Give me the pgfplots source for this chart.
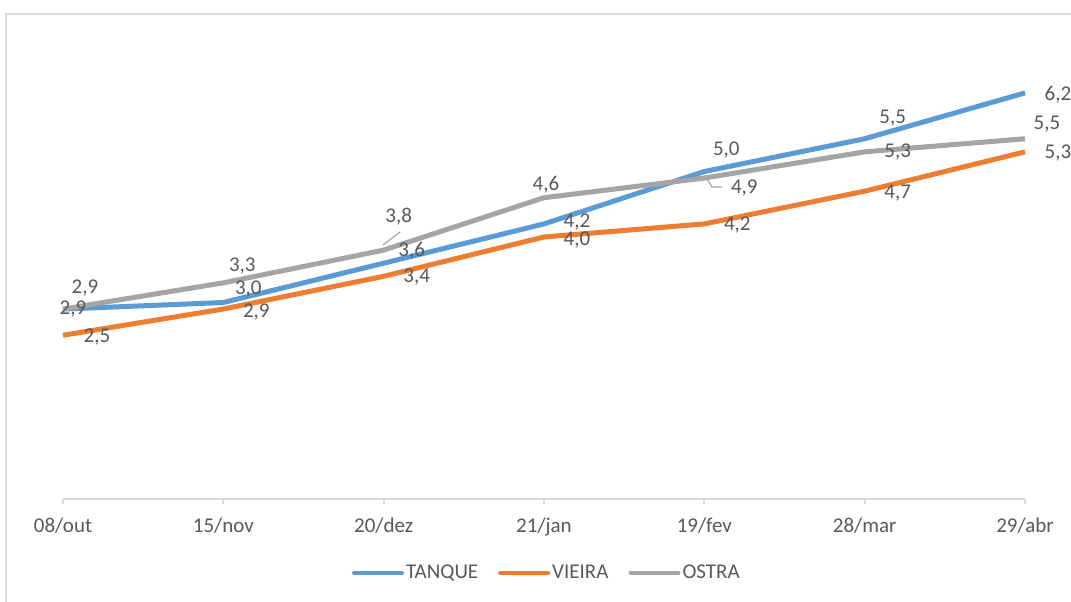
\documentclass[border=0pt]{standalone}
\usepackage{fontspec}
\setmainfont{Carlito}
\usepackage{pgfplots}
\usepackage{pgfplotstable}
\pgfplotsset{compat=1.18}
\definecolor{cblue}{HTML}{5B9BD5}
\definecolor{corange}{HTML}{ED7D31}
\definecolor{cgray}{HTML}{A5A5A5}
\definecolor{ctext}{HTML}{595959}
\definecolor{cframe}{HTML}{D9D9D9}

% x y dx dy  (dx, dy = label offset in px, dy upward)
\pgfplotstableread{
x y dx dy
0 2.9 10 0
1 3.0 25 13
2 3.6 28 12
3 4.2 33 2
4 5.0 22 21
5 5.5 28 21
6 6.2 33 -2
}\tanque
\pgfplotstableread{
x y dx dy
0 2.5 34 -2
1 2.9 33 -3
2 3.4 33 -1
3 4.0 33 -3
4 4.2 33 -1
5 4.7 33 -2
6 5.3 33 -1
}\vieira
\pgfplotstableread{
x y dx dy
0 2.9 22 21
1 3.3 19 17
2 3.8 15 33
3 4.6 2 13
4 4.9 40 -10
5 5.3 33 0
6 5.5 22 15
}\ostra

\pgfplotsset{
  lbl/.style={
    forget plot,
    nodes near coords={\pgfmathprintnumber[fixed,fixed zerofill,precision=1,use comma,assume math mode=true]{\pgfplotspointmeta}},
    visualization depends on={\thisrow{dx}\as\dx},
    visualization depends on={\thisrow{dy}\as\dy},
    every node near coord/.append style={anchor=center, text=ctext,
      font=\fontsize{10.5}{12}\selectfont, inner sep=0pt,
      xshift={\dx*0.5pt}, yshift={\dy*0.5pt}},
  }
}

\begin{document}
\begin{tikzpicture}
\useasboundingbox (0,0) rectangle (535.5pt,300.5pt);
\fill[white] (0,0) rectangle (535.5pt,300.5pt);
\draw[cframe, line width=1pt] (3pt,-5pt) -- (3pt,293.5pt) -- (540pt,293.5pt);
\begin{axis}[
  at={(31.5pt,51pt)}, anchor=south west,
  scale only axis, width=481pt, height=229.25pt,
  xmin=0, xmax=6, ymin=0, ymax=7,
  clip=false,
  axis y line=none, axis x line=bottom,
  x axis line style={-, draw=cframe, line width=1pt},
  xtick={0,...,6},
  xticklabels={08/out,15/nov,20/dez,21/jan,19/fev,28/mar,29/abr},
  tick style={draw=cframe, line width=1pt},
  major tick length=2.5pt, tick align=outside,
  xticklabel style={font=\fontsize{10.5}{12}\selectfont, text=ctext, yshift=-3.5pt},
  legend columns=-1,
  legend style={at={(0.503,-0.161)}, anchor=center, draw=none, fill=none,
    font=\fontsize{10.5}{12}\selectfont, text=ctext,
    /tikz/every even column/.append style={column sep=9pt},
    nodes={inner sep=1pt}},
  legend image code/.code={\draw[#1, line width=2pt, line cap=round] (0pt,0pt) -- (24pt,0pt);},
]
\addplot[cblue, line width=2.5pt, line join=round, lbl] table[x=x, y=y, meta=y] {\tanque};
\addplot[corange, line width=2.5pt, line join=round, lbl] table[x=x, y=y, meta=y] {\vieira};
\addplot[cgray, line width=2.5pt, line join=round, lbl] table[x=x, y=y, meta=y] {\ostra};
\addlegendimage{cblue}
\addlegendentry{TANQUE}
\addlegendimage{corange}
\addlegendentry{VIEIRA}
\addlegendimage{cgray}
\addlegendentry{OSTRA}
\draw[cgray, line width=0.6pt] (axis cs:1.996,3.878) -- (axis cs:2.102,4.076);
\draw[cgray, line width=0.6pt] (axis cs:4.017,4.885) -- (axis cs:4.048,4.763) -- (axis cs:4.110,4.763);
\end{axis}
\end{tikzpicture}
\end{document}
